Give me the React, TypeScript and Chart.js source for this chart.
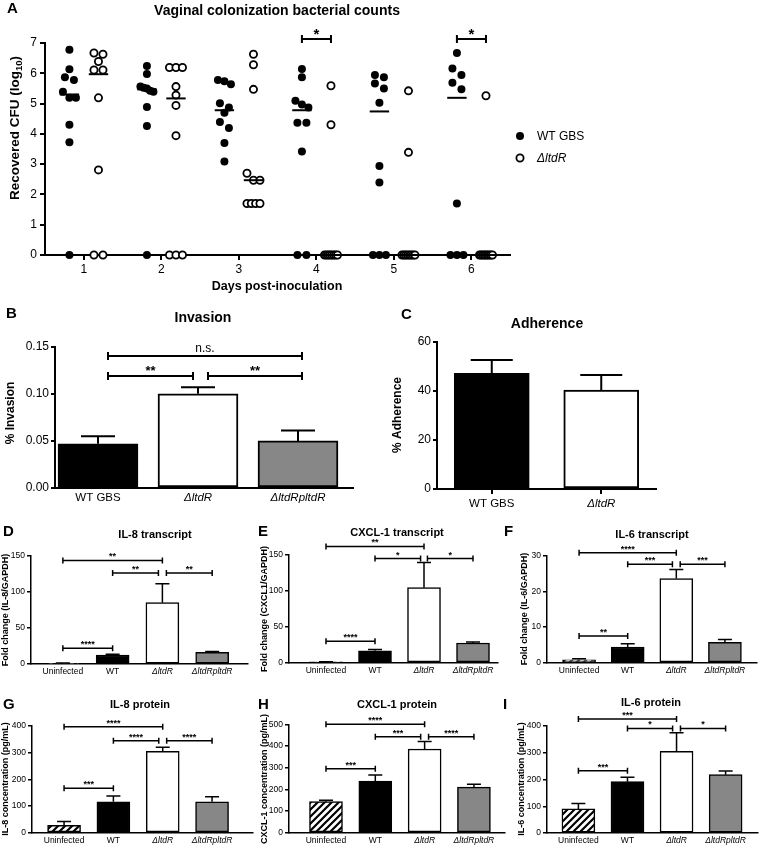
import React, { useEffect, useRef } from 'react';
import { Chart, registerables } from 'chart.js';

Chart.register(...registerables);

const FONT = '"Liberation Sans", Arial, Helvetica, sans-serif';
Chart.defaults.font.family = FONT;
Chart.defaults.color = '#000';

type Sig = [number, number, number, string];

// ================= Panel A: vaginal colonization =================
const colonizationDays = [1, 2, 3, 4, 5, 6];
const colonizationYTicks = [0, 1, 2, 3, 4, 5, 6, 7];
const wtGbsLog10: number[][] = [
  [6.78, 6.13, 5.87, 5.78, 5.39, 5.19, 5.19, 4.30, 3.72, 0],
  [6.24, 5.98, 5.56, 5.52, 5.50, 5.42, 5.39, 4.89, 4.26, 0],
  [5.78, 5.74, 5.64, 5.01, 4.87, 4.70, 4.39, 4.19, 3.70, 3.09],
  [6.14, 5.87, 5.09, 4.97, 4.87, 4.37, 4.37, 3.42, 0, 0],
  [5.94, 5.87, 5.66, 5.50, 5.03, 2.94, 2.39, 0, 0, 0],
  [6.67, 6.16, 5.94, 5.69, 5.47, 1.70, 0, 0, 0],
];
const ltdRLog10: number[][] = [
  [6.67, 6.63, 6.39, 6.11, 6.11, 5.19, 2.81, 0, 0],
  [6.19, 6.19, 6.19, 5.56, 5.28, 4.94, 3.94, 0, 0, 0],
  [6.63, 6.28, 5.47, 2.70, 2.47, 2.47, 1.70, 1.70, 1.70, 1.70],
  [5.59, 4.30, 0, 0, 0, 0, 0, 0, 0, 0],
  [5.42, 3.39, 0, 0, 0, 0, 0, 0, 0, 0],
  [5.26, 0, 0, 0, 0, 0, 0, 0, 0, 0],
];
const wtGbsMedian = [5.30, 5.47, 4.78, 4.78, 4.74, 5.19];
const ltdRMedian = [5.97, 5.17, 2.47, 0, 0, 0];
const colonizationSigDays = [4, 6];
const colonizationSigLabels = ['*', '*'];
const colonizationSigLevel = 7.13;
const legendLabels = ['WT GBS', 'ΔltdR'];

// ================= Panel B: invasion =================
const invasionStrains = ['WT GBS', 'ΔltdR', 'ΔltdRpltdR'];
const invasionPct = [0.047, 0.100, 0.050];
const invasionSem = [0.008, 0.007, 0.011];
const invasionYTicks = [0, 0.05, 0.1, 0.15];
const invasionSig: Sig[] = [
  [0.1, 2.04, 0.140, 'n.s.'],
  [0.1, 0.95, 0.119, '**'],
  [1.1, 2.04, 0.119, '**'],
];

// ================= Panel C: adherence =================
const adherenceStrains = ['WT GBS', 'ΔltdR'];
const adherencePct = [47.2, 40.4];
const adherenceSem = [5.5, 6.1];
const adherenceYTicks = [0, 20, 40, 60];

// ================= Panels D-I =================
const infectionGroups = ['Uninfected', 'WT', 'ΔltdR', 'ΔltdRpltdR'];

const il8Transcript = [1.0, 12.5, 85, 16];
const il8TranscriptSem = [0.3, 1.0, 26, 1.4];
const il8TranscriptTicks = [0, 50, 100, 150];
const il8TranscriptSig: Sig[] = [[0, 2, 143.5, '**'], [1, 1.92, 126, '**'], [2.08, 3, 126, '**'], [0, 1, 21.8, '****']];

const cxcl1Transcript = [1.0, 16.5, 104.5, 27.5];
const cxcl1TranscriptSem = [0.2, 1.8, 35, 1.2];
const cxcl1TranscriptTicks = [0, 50, 100, 150];
const cxcl1TranscriptSig: Sig[] = [[0, 2, 162, '**'], [1, 1.93, 145, '*'], [2.07, 3, 145, '*'], [0, 1, 30, '****']];

const il6Transcript = [0.8, 4.4, 23.6, 5.7];
const il6TranscriptSem = [0.3, 0.9, 2.5, 0.8];
const il6TranscriptTicks = [0, 10, 20, 30];
const il6TranscriptSig: Sig[] = [[0, 2, 30.8, '****'], [1, 1.92, 27.6, '***'], [2.08, 3, 27.6, '***'], [0, 1, 7.5, '**']];

const il8Protein = [28, 116, 305, 116];
const il8ProteinSem = [14, 22, 15, 19];
const il8ProteinTicks = [0, 100, 200, 300, 400];
const il8ProteinSig: Sig[] = [[0, 2, 397, '****'], [1, 1.92, 345, '****'], [2.08, 3, 345, '****'], [0, 1, 167, '***']];

const cxcl1Protein = [143, 238, 386, 210];
const cxcl1ProteinSem = [7, 28, 35, 13];
const cxcl1ProteinTicks = [0, 100, 200, 300, 400, 500];
const cxcl1ProteinSig: Sig[] = [[0, 2, 500, '****'], [1, 1.92, 443, '***'], [2.08, 3, 443, '****'], [0, 1, 295, '***']];

const il6Protein = [90, 192, 305, 218];
const il6ProteinSem = [20, 16, 70, 14];
const il6ProteinTicks = [0, 100, 200, 300, 400];
const il6ProteinSig: Sig[] = [[0, 2, 426, '***'], [1, 1.92, 391, '*'], [2.08, 3, 391, '*'], [0, 1, 233, '***']];

// ================= helpers =================
function drawText(ctx: CanvasRenderingContext2D, s: string, x: number, y: number, font: string,
  align: CanvasTextAlign = 'center', baseline: CanvasTextBaseline = 'middle') {
  ctx.save();
  ctx.font = font;
  ctx.fillStyle = '#000';
  ctx.textAlign = align;
  ctx.textBaseline = baseline;
  ctx.fillText(s, x, y);
  ctx.restore();
}

function drawVText(ctx: CanvasRenderingContext2D, s: string, x: number, y: number, font: string) {
  ctx.save();
  ctx.translate(x, y);
  ctx.rotate(-Math.PI / 2);
  ctx.font = font;
  ctx.fillStyle = '#000';
  ctx.textAlign = 'center';
  ctx.textBaseline = 'middle';
  ctx.fillText(s, 0, 0);
  ctx.restore();
}

function drawBracket(ctx: CanvasRenderingContext2D, x1: number, x2: number, y: number, label: string,
  lw: number, cap: number, size: number, starGap: number, textGap: number) {
  ctx.save();
  ctx.strokeStyle = '#000';
  ctx.lineWidth = lw;
  ctx.beginPath();
  ctx.moveTo(x1, y); ctx.lineTo(x2, y);
  ctx.moveTo(x1, y - cap); ctx.lineTo(x1, y + cap);
  ctx.moveTo(x2, y - cap); ctx.lineTo(x2, y + cap);
  ctx.stroke();
  ctx.restore();
  const isStar = label.includes('*');
  const font = isStar ? `bold ${size}px ${FONT}` : `${size - 1}px ${FONT}`;
  drawText(ctx, label, (x1 + x2) / 2, y - (isStar ? starGap : textGap), font, 'center', 'alphabetic');
}

function makeHatch(): CanvasPattern | string {
  const s = 7;
  const c = document.createElement('canvas');
  c.width = s; c.height = s;
  const g = c.getContext('2d');
  if (!g) return '#fff';
  g.fillStyle = '#fff';
  g.fillRect(0, 0, s, s);
  g.strokeStyle = '#000';
  g.lineWidth = 2.2;
  g.beginPath();
  g.moveTo(0, s); g.lineTo(s, 0);
  g.moveTo(-s / 2, s / 2); g.lineTo(s / 2, -s / 2);
  g.moveTo(s / 2, s * 1.5); g.lineTo(s * 1.5, s / 2);
  g.stroke();
  return g.createPattern(c, 'repeat') || '#fff';
}

// beeswarm-like spreading of points that share (nearly) the same value
function swarmOffsets(vals: number[], pxPerY: number, pxPerX: number): number[] {
  const idx = vals.map((_, i) => i).sort((a, b) => vals[b] - vals[a]);
  const out = new Array(vals.length).fill(0);
  let row: number[] = [];
  const flush = () => {
    const n = row.length;
    const step = n > 1 ? Math.min(9, 13 / (n - 1)) : 0;
    row.forEach((id, k) => { out[id] = ((k - (n - 1) / 2) * step) / pxPerX; });
    row = [];
  };
  idx.forEach((id) => {
    if (row.length && (vals[row[0]] - vals[id]) * pxPerY >= 7.5) flush();
    row.push(id);
  });
  flush();
  return out;
}

// ================= Panel A chart =================
function makeColonization() {
  const box = [0, 0, 760, 298];
  const L = 45, T = 43, R = 510, B = 255;
  const xMin = 0.5, xMax = 6.5, yMax = 7;
  const pxX = (R - L) / (xMax - xMin), pxY = (B - T) / yMax;
  const wtShift = -0.185, ltShift = 0.19, half = 0.125;
  const wtPts: { x: number; y: number }[] = [];
  const ltPts: { x: number; y: number }[] = [];
  colonizationDays.forEach((d, i) => {
    const ow = swarmOffsets(wtGbsLog10[i], pxY, pxX);
    wtGbsLog10[i].forEach((v, k) => wtPts.push({ x: d + wtShift + ow[k], y: v }));
    const ol = swarmOffsets(ltdRLog10[i], pxY, pxX);
    ltdRLog10[i].forEach((v, k) => ltPts.push({ x: d + ltShift + ol[k], y: v }));
  });
  const med = (c: number, m: number) => ({
    data: [{ x: c - half, y: m }, { x: c + half, y: m }],
    showLine: true, pointRadius: 0, borderColor: '#000', borderWidth: 2, clip: false,
  });
  const medians = colonizationDays.flatMap((d, i) => [med(d + wtShift, wtGbsMedian[i]), med(d + ltShift, ltdRMedian[i])]);

  const overlay = {
    id: 'colOverlay',
    afterDraw(chart: any) {
      const ctx: CanvasRenderingContext2D = chart.ctx;
      const xs = chart.scales.x, ys = chart.scales.y;
      drawText(ctx, 'A', 7, 9, `bold 15px ${FONT}`, 'left');
      drawText(ctx, 'Vaginal colonization bacterial counts', 277, 11, `bold 14px ${FONT}`);
      // y title with subscript
      ctx.save();
      ctx.translate(15, 128);
      ctx.rotate(-Math.PI / 2);
      ctx.fillStyle = '#000';
      ctx.textAlign = 'left';
      ctx.textBaseline = 'middle';
      const f1 = `bold 13.5px ${FONT}`, f2 = `bold 9.5px ${FONT}`;
      ctx.font = f1;
      const p1 = 'Recovered CFU (log', p3 = ')';
      const w1 = ctx.measureText(p1).width, w3 = ctx.measureText(p3).width;
      ctx.font = f2;
      const w2 = ctx.measureText('10').width;
      let x = -(w1 + w2 + w3) / 2;
      ctx.font = f1; ctx.fillText(p1, x, 0); x += w1;
      ctx.font = f2; ctx.fillText('10', x, 4); x += w2;
      ctx.font = f1; ctx.fillText(p3, x, 0);
      ctx.restore();
      drawText(ctx, 'Days post-inoculation', 277, 287, `bold 12.5px ${FONT}`);
      colonizationSigDays.forEach((d, i) => {
        drawBracket(ctx, xs.getPixelForValue(d + wtShift), xs.getPixelForValue(d + ltShift),
          ys.getPixelForValue(colonizationSigLevel), colonizationSigLabels[i], 2, 4, 15, 0, 4);
      });
      // legend
      ctx.save();
      ctx.fillStyle = '#000';
      ctx.beginPath(); ctx.arc(520, 136, 4, 0, Math.PI * 2); ctx.fill();
      ctx.beginPath(); ctx.arc(520, 158, 3.6, 0, Math.PI * 2);
      ctx.fillStyle = '#fff'; ctx.fill();
      ctx.strokeStyle = '#000'; ctx.lineWidth = 1.8; ctx.stroke();
      ctx.restore();
      drawText(ctx, legendLabels[0], 537, 137, `12px ${FONT}`, 'left');
      drawText(ctx, legendLabels[1], 537, 159, `italic 12px ${FONT}`, 'left');
    },
  };

  return {
    box,
    config: {
      type: 'scatter',
      data: {
        datasets: [
          ...medians,
          { data: wtPts, pointRadius: 4, pointBackgroundColor: '#000', pointBorderColor: '#000', pointBorderWidth: 0, clip: false },
          { data: ltPts, pointRadius: 3.6, pointBackgroundColor: '#fff', pointBorderColor: '#000', pointBorderWidth: 1.8, clip: false },
        ],
      },
      options: {
        animation: false, responsive: false, devicePixelRatio: 1, events: [],
        layout: { padding: { left: 0, top: T - box[1], right: box[0] + box[2] - R, bottom: 0 } },
        plugins: { legend: { display: false }, tooltip: { enabled: false } },
        scales: {
          x: {
            type: 'linear', min: xMin, max: xMax, offset: false,
            afterBuildTicks: (sc: any) => { sc.ticks = colonizationDays.map((d) => ({ value: d })); },
            afterFit: (sc: any) => { sc.height = box[1] + box[3] - B; },
            ticks: { padding: 2, autoSkip: false, maxRotation: 0, color: '#000', font: { family: FONT, size: 12 }, callback: (v: any) => String(v) },
            grid: { display: true, drawOnChartArea: false, drawTicks: true, tickLength: 5, color: '#000', lineWidth: 2, offset: false },
            border: { display: true, color: '#000', width: 2 },
          },
          y: {
            type: 'linear', min: 0, max: yMax,
            afterBuildTicks: (sc: any) => { sc.ticks = colonizationYTicks.map((v) => ({ value: v })); },
            afterFit: (sc: any) => { sc.width = L - box[0]; },
            ticks: { padding: 3, color: '#000', font: { family: FONT, size: 12 }, callback: (v: any) => String(v) },
            grid: { drawOnChartArea: false, drawTicks: true, tickLength: 5, color: '#000', lineWidth: 2 },
            border: { display: true, color: '#000', width: 2 },
          },
        },
      },
      plugins: [overlay],
    },
  };
}

// ================= bar panels =================
interface BarSpec {
  box: number[];
  plot: number[]; // L, T, R, B (page px)
  xRange: number[];
  yMax: number;
  yTicks: number[];
  yFmt: (v: number) => string;
  labels: string[];
  values: number[];
  sem: number[];
  fills: string[];
  sig: Sig[];
  barW: number; capW: number; lw: number;
  tickFont: number; labelFont: number; labelGap: number;
  xTickMarks: boolean;
  title: string; titlePos: number[]; titleFont: number;
  letter: string; letterPos: number[]; letterFont: number;
  yTitle: string; yTitlePos: number[]; yTitleFont: number;
  sigFont: number; sigCap: number; sigLw: number;
}

function makeBar(s: BarSpec) {
  const [bx, by, bw, bh] = s.box;
  const [pl, pt, pr, pb] = s.plot;
  const hatch = makeHatch();
  const colors = s.fills.map((f) => (f === 'hatch' ? hatch : f));
  const overlay = {
    id: 'barOverlay',
    afterDatasetsDraw(chart: any) {
      const ctx: CanvasRenderingContext2D = chart.ctx;
      const xs = chart.scales.x, ys = chart.scales.y;
      ctx.save();
      ctx.strokeStyle = '#000';
      ctx.lineWidth = s.lw;
      s.values.forEach((v, i) => {
        const x = xs.getPixelForValue(i);
        const y0 = ys.getPixelForValue(v);
        const y1 = ys.getPixelForValue(v + s.sem[i]);
        ctx.beginPath();
        ctx.moveTo(x, y0); ctx.lineTo(x, y1);
        ctx.moveTo(x - s.capW, y1); ctx.lineTo(x + s.capW, y1);
        ctx.stroke();
      });
      ctx.restore();
    },
    afterDraw(chart: any) {
      const ctx: CanvasRenderingContext2D = chart.ctx;
      const xs = chart.scales.x, ys = chart.scales.y;
      s.sig.forEach(([a, b, y, label]) => {
        drawBracket(ctx, xs.getPixelForValue(a), xs.getPixelForValue(b), ys.getPixelForValue(y), label,
          s.sigLw, s.sigCap, s.sigFont, 1, 4);
      });
      drawText(ctx, s.letter, s.letterPos[0] - bx, s.letterPos[1] - by, `bold ${s.letterFont}px ${FONT}`, 'left');
      drawText(ctx, s.title, s.titlePos[0] - bx, s.titlePos[1] - by, `bold ${s.titleFont}px ${FONT}`);
      drawVText(ctx, s.yTitle, s.yTitlePos[0] - bx, s.yTitlePos[1] - by, `bold ${s.yTitleFont}px ${FONT}`);
    },
  };
  return {
    box: s.box,
    config: {
      type: 'bar',
      data: {
        datasets: [{
          data: s.values.map((v, i) => ({ x: i, y: v })),
          backgroundColor: colors,
          borderColor: '#000',
          borderWidth: s.lw,
          borderSkipped: false,
          barThickness: s.barW,
        }],
      },
      options: {
        animation: false, responsive: false, devicePixelRatio: 1, events: [],
        layout: { padding: { left: 0, top: pt - by, right: bx + bw - pr, bottom: 0 } },
        plugins: { legend: { display: false }, tooltip: { enabled: false } },
        scales: {
          x: {
            type: 'linear', min: s.xRange[0], max: s.xRange[1], offset: false,
            afterBuildTicks: (sc: any) => { sc.ticks = s.labels.map((_, i) => ({ value: i })); },
            afterFit: (sc: any) => { sc.height = by + bh - pb; },
            ticks: {
              autoSkip: false, maxRotation: 0, padding: s.labelGap, color: '#000',
              callback: (_v: any, i: number) => s.labels[i],
              font: (c: any) => ({ family: FONT, size: s.labelFont, style: (s.labels[c.index] || '').includes('Δ') ? 'italic' : 'normal' }),
            },
            grid: { display: s.xTickMarks, drawOnChartArea: false, drawTicks: s.xTickMarks, tickLength: 5, color: '#000', lineWidth: s.lw, offset: false },
            border: { display: true, color: '#000', width: s.lw },
          },
          y: {
            type: 'linear', min: 0, max: s.yMax,
            afterBuildTicks: (sc: any) => { sc.ticks = s.yTicks.map((v) => ({ value: v })); },
            afterFit: (sc: any) => { sc.width = pl - bx; },
            ticks: { padding: 2, color: '#000', font: { family: FONT, size: s.tickFont }, callback: (v: any) => s.yFmt(v) },
            grid: { drawOnChartArea: false, drawTicks: true, tickLength: 4, color: '#000', lineWidth: s.lw },
            border: { display: true, color: '#000', width: s.lw },
          },
        },
      },
      plugins: [overlay],
    },
  };
}

const GRAY = '#878787';
const big = { lw: 2, tickFont: 12, labelFont: 11.5, labelGap: 3, titleFont: 14, letterFont: 15, yTitleFont: 12, sigFont: 13, sigCap: 4, sigLw: 2 };
const small = { lw: 1.5, tickFont: 8.5, labelFont: 8.5, labelGap: 3, titleFont: 11, letterFont: 15, yTitleFont: 9, sigFont: 9, sigCap: 3, sigLw: 1.5, barW: 33, capW: 7, xTickMarks: false };
const fmtInt = (v: number) => String(v);
const fourFills = ['hatch', '#000', '#fff', GRAY];

const panels = [
  makeColonization(),
  makeBar({
    ...big, box: [0, 298, 370, 224], plot: [55, 346.7, 353, 488], xRange: [-0.43, 2.55], yMax: 0.15,
    yTicks: invasionYTicks, yFmt: (v) => v.toFixed(2), labels: invasionStrains, values: invasionPct, sem: invasionSem,
    fills: ['#000', '#fff', GRAY], sig: invasionSig, barW: 80, capW: 17, xTickMarks: false,
    title: 'Invasion', titlePos: [203, 318], letter: 'B', letterPos: [6, 314], yTitle: '% Invasion', yTitlePos: [11, 413],
  }),
  makeBar({
    ...big, box: [370, 298, 390, 224], plot: [437, 342, 656, 489], xRange: [-0.5, 1.5], yMax: 60,
    yTicks: adherenceYTicks, yFmt: fmtInt, labels: adherenceStrains, values: adherencePct, sem: adherenceSem,
    fills: ['#000', '#fff'], sig: [], barW: 75, capW: 21, xTickMarks: true,
    title: 'Adherence', titlePos: [547, 324], letter: 'C', letterPos: [401, 315], yTitle: '% Adherence', yTitlePos: [398, 415],
  }),
  makeBar({
    ...small, box: [0, 522, 250, 166], plot: [31, 555.7, 248, 664], xRange: [-0.64, 3.72], yMax: 150,
    yTicks: il8TranscriptTicks, yFmt: fmtInt, labels: infectionGroups, values: il8Transcript, sem: il8TranscriptSem,
    fills: fourFills, sig: il8TranscriptSig,
    title: 'IL-8 transcript', titlePos: [155, 535], letter: 'D', letterPos: [3, 532], yTitle: 'Fold change (IL-8/GAPDH)', yTitlePos: [6, 610],
  }),
  makeBar({
    ...small, box: [250, 522, 250, 166], plot: [289, 555, 498, 662.7], xRange: [-0.755, 3.51], yMax: 150,
    yTicks: cxcl1TranscriptTicks, yFmt: fmtInt, labels: infectionGroups, values: cxcl1Transcript, sem: cxcl1TranscriptSem,
    fills: fourFills, sig: cxcl1TranscriptSig,
    title: 'CXCL-1 transcript', titlePos: [397, 533], letter: 'E', letterPos: [258, 532], yTitle: 'Fold change (CXCL1/GAPDH)', yTitlePos: [265, 609],
  }),
  makeBar({
    ...small, box: [500, 522, 260, 166], plot: [547, 555.7, 757, 662.7], xRange: [-0.66, 3.66], yMax: 30,
    yTicks: il6TranscriptTicks, yFmt: fmtInt, labels: infectionGroups, values: il6Transcript, sem: il6TranscriptSem,
    fills: fourFills, sig: il6TranscriptSig,
    title: 'IL-6 transcript', titlePos: [652, 535], letter: 'F', letterPos: [504, 532], yTitle: 'Fold change (IL-6/GAPDH)', yTitlePos: [525, 609],
  }),
  makeBar({
    ...small, box: [0, 688, 258, 159], plot: [32, 726, 253, 832.7], xRange: [-0.65, 3.83], yMax: 400,
    yTicks: il8ProteinTicks, yFmt: fmtInt, labels: infectionGroups, values: il8Protein, sem: il8ProteinSem,
    fills: fourFills, sig: il8ProteinSig,
    title: 'IL-8 protein', titlePos: [140, 705], letter: 'G', letterPos: [3, 705], yTitle: 'IL-8 concentration (pg/mL)', yTitlePos: [6, 779],
  }),
  makeBar({
    ...small, box: [250, 688, 258, 159], plot: [289, 724.3, 505, 832.7], xRange: [-0.75, 3.63], yMax: 500,
    yTicks: cxcl1ProteinTicks, yFmt: fmtInt, labels: infectionGroups, values: cxcl1Protein, sem: cxcl1ProteinSem,
    fills: fourFills, sig: cxcl1ProteinSig,
    title: 'CXCL-1 protein', titlePos: [397, 705], letter: 'H', letterPos: [258, 705], yTitle: 'CXCL-1 concentration (pg/mL)', yTitlePos: [265, 779],
  }),
  makeBar({
    ...small, box: [500, 688, 260, 159], plot: [547, 726, 758, 833], xRange: [-0.64, 3.66], yMax: 400,
    yTicks: il6ProteinTicks, yFmt: fmtInt, labels: infectionGroups, values: il6Protein, sem: il6ProteinSem,
    fills: fourFills, sig: il6ProteinSig,
    title: 'IL-6 protein', titlePos: [651, 703], letter: 'I', letterPos: [503, 705], yTitle: 'IL-6 concentration (pg/mL)', yTitlePos: [522, 779],
  }),
];

function ChartCanvas({ box, config }: { box: number[]; config: any }) {
  const ref = useRef<HTMLCanvasElement | null>(null);
  useEffect(() => {
    if (!ref.current) return;
    const chart = new Chart(ref.current, config);
    return () => chart.destroy();
  }, []);
  const [x, y, w, h] = box;
  return (
    <canvas ref={ref} width={w} height={h}
      style={{ position: 'absolute', left: x, top: y, width: w, height: h }} />
  );
}

export default function App() {
  return (
    <div style={{ position: 'absolute', left: 0, top: 0, width: 760, height: 847, background: '#fff', overflow: 'hidden' }}>
      {panels.map((p, i) => (
        <ChartCanvas key={i} box={p.box} config={p.config} />
      ))}
    </div>
  );
}
